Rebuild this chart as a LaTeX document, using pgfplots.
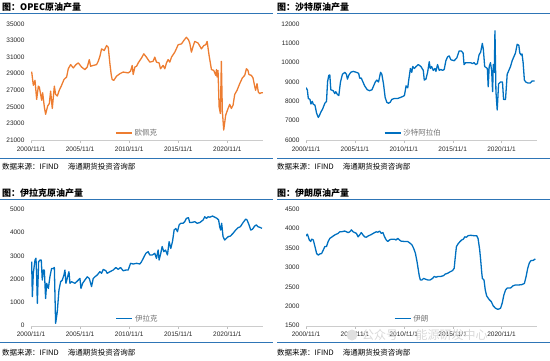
\documentclass[border=0pt]{standalone}
\usepackage{fontspec}
\setmainfont{Liberation Sans}
\newfontfamily\cjk{Noto Sans CJK SC}
\usepackage{pgfplots}
\pgfplotsset{compat=1.18}
\definecolor{opec}{HTML}{ED7D31}
\definecolor{ser}{HTML}{0070C0}
\definecolor{sep}{HTML}{2E75B6}
\pgfplotsset{
 panel/.style={
  scale only axis, width=232pt, height=116pt, anchor=south west,
  xmin=2000.833, xmax=2024.46,
  axis x line*=bottom, axis y line*=left,
  x axis line style={draw=black!20, -},
  y axis line style={draw=none},
  xtick={2000.833,2005.833,2010.833,2015.833,2020.833},
  xticklabels={2000/11/1,2005/11/1,2010/11/1,2015/11/1,2020/11/1},
  tick align=outside, major tick length=3pt,
  xtick style={draw=black!25},
  ytick style={draw=none},
  scaled y ticks=false,
  tick label style={font=\fontsize{6.5}{7}\selectfont, color=black!85},
  /pgf/number format/assume math mode=true,
  /pgf/number format/1000 sep={},
  legend style={draw=none, fill=none, font=\cjk\fontsize{7.5}{8}\selectfont, text=black!55, anchor=south, inner sep=1pt},
  legend image code/.code={\draw[##1, line width=1.6pt] (0pt,0pt) -- (16pt,0pt);},
 },
 ln/.style={line width=1.3pt, line join=round, no markers}
}
\begin{document}
\begin{tikzpicture}
\path[use as bounding box] (0pt,0pt) rectangle (550pt,360pt);
% separators
\draw[sep, line width=0.9pt] (0pt,346.7pt) -- (273pt,346.7pt);
\draw[sep, line width=0.9pt] (277pt,346.7pt) -- (550pt,346.7pt);
\draw[sep, line width=0.9pt] (0pt,201.7pt) -- (273pt,201.7pt);
\draw[sep, line width=0.9pt] (277pt,201.7pt) -- (550pt,201.7pt);
\draw[sep, line width=0.9pt] (0pt,160.7pt) -- (273pt,160.7pt);
\draw[sep, line width=0.9pt] (277pt,160.7pt) -- (550pt,160.7pt);
\draw[sep, line width=0.9pt] (0pt,17.7pt) -- (273pt,17.7pt);
\draw[sep, line width=0.9pt] (277pt,17.7pt) -- (550pt,17.7pt);
% titles
\node[anchor=west, inner sep=0, font=\cjk\bfseries\fontsize{9}{10}\selectfont] at (2pt,352.5pt) {图：OPEC原油产量};
\node[anchor=west, inner sep=0, font=\cjk\bfseries\fontsize{9}{10}\selectfont] at (277pt,352.5pt) {图：沙特原油产量};
\node[anchor=west, inner sep=0, font=\cjk\bfseries\fontsize{9}{10}\selectfont] at (2pt,167pt) {图：伊拉克原油产量};
\node[anchor=west, inner sep=0, font=\cjk\bfseries\fontsize{9}{10}\selectfont] at (277pt,167pt) {图：伊朗原油产量};
% sources
\node[anchor=west, inner sep=0, font=\cjk\fontsize{7.5}{8}\selectfont] at (2pt,193.3pt) {数据来源：IFIND\hspace{9pt}海通期货投资咨询部};
\node[anchor=west, inner sep=0, font=\cjk\fontsize{7.5}{8}\selectfont] at (277pt,193.3pt) {数据来源：IFIND\hspace{9pt}海通期货投资咨询部};
\node[anchor=west, inner sep=0, font=\cjk\fontsize{7.5}{8}\selectfont] at (2pt,7.3pt) {数据来源：IFIND\hspace{9pt}海通期货投资咨询部};
\node[anchor=west, inner sep=0, font=\cjk\fontsize{7.5}{8}\selectfont] at (277pt,7.3pt) {数据来源：IFIND\hspace{9pt}海通期货投资咨询部};

% OPEC
\begin{axis}[panel, at={(31pt,220pt)}, ymin=21000, ymax=35000, ytick={21000,23000,...,35000},
  legend style={at={(0.457,0)}}]
\addplot[ln, opec] coordinates {
(2000.90,29250)(2001.07,27600)(2001.24,28200)(2001.41,25900)(2001.58,27500)(2001.68,27400)
(2001.92,25800)(2002.02,26700)(2002.19,25000)(2002.32,24100)(2002.53,25100)(2002.70,25400)
(2002.83,26900)(2003.00,24800)(2003.21,27500)(2003.34,26500)(2003.51,26300)(2003.71,27000)
(2003.95,27600)(2004.19,28300)(2004.46,28600)(2004.63,29600)(2004.87,30100)(2005.14,29700)
(2005.41,30100)(2005.65,30300)(2005.99,29800)(2006.32,29500)(2006.56,29800)(2006.77,30700)
(2006.90,29900)(2007.17,30000)(2007.51,30100)(2007.68,30500)(2007.85,31100)(2008.02,32000)
(2008.29,31800)(2008.53,32400)(2008.70,32200)(2008.87,30200)(2009.00,28900)(2009.10,28300)
(2009.27,28200)(2009.54,28700)(2009.88,29000)(2010.22,29200)(2010.73,29100)(2010.97,29300)
(2011.14,30000)(2011.24,28900)(2011.41,29800)(2011.58,29900)(2011.75,30300)(2012.09,30900)
(2012.32,31400)(2012.59,31000)(2012.93,30400)(2013.27,30500)(2013.44,31000)(2013.61,30400)
(2013.88,30300)(2014.02,29600)(2014.29,30000)(2014.46,29600)(2014.63,30300)(2014.80,30700)
(2014.97,30400)(2015.14,31000)(2015.48,31600)(2015.82,32500)(2016.16,32600)(2016.39,33000)
(2016.66,33400)(2016.87,33100)(2017.00,32700)(2017.17,31600)(2017.34,32300)(2017.51,32900)
(2017.85,32700)(2018.19,32000)(2018.43,32400)(2018.63,32500)(2018.77,32900)(2018.97,31200)
(2019.21,29500)(2019.44,29400)(2019.65,28800)(2019.72,29500)(2019.78,28600)(2019.88,29400)
(2019.99,25000)(2020.12,24200)(2020.22,30500)(2020.32,24500)(2020.46,22200)(2020.66,24000)
(2020.90,24800)(2021.07,25300)(2021.24,24800)(2021.41,25200)(2021.58,26500)(2021.82,27000)
(2022.09,27800)(2022.36,28500)(2022.60,28800)(2022.77,29600)(2022.93,29400)(2023.03,28900)
(2023.27,28800)(2023.44,28500)(2023.61,27500)(2023.71,27000)(2023.85,27800)(2023.98,26800)
(2024.12,26600)(2024.29,26700)(2024.46,26700)
};
\addlegendentry{欧佩克}
\end{axis}

% Saudi
\begin{axis}[panel, at={(306pt,220pt)}, width=231pt, ymin=6000, ymax=12000, ytick={6000,7000,...,12000},
  legend style={at={(0.465,0)}}]
\addplot[ln, ser] coordinates {
(2000.83,8710)(2000.97,8590)(2001.07,8150)(2001.24,8100)(2001.34,7860)(2001.48,8000)(2001.58,7850)
(2001.75,7800)(2001.92,7380)(2002.09,7170)(2002.19,7250)(2002.36,7450)(2002.53,7600)(2002.76,7900)
(2002.93,8000)(2003.04,9020)(2003.17,9350)(2003.27,9360)(2003.37,8600)(2003.61,8550)(2003.78,8400)
(2003.88,8500)(2004.05,8350)(2004.19,8300)(2004.36,9000)(2004.56,9400)(2004.80,9500)(2004.97,9400)
(2005.07,9150)(2005.21,9350)(2005.41,9500)(2005.65,9550)(2005.99,9500)(2006.22,9450)(2006.32,9200)
(2006.49,9200)(2006.66,9000)(2006.83,8800)(2007.10,8600)(2007.34,8550)(2007.58,8600)(2007.75,8800)
(2007.92,9000)(2008.08,9100)(2008.25,9000)(2008.46,9500)(2008.59,9400)(2008.76,8900)(2008.93,8200)
(2009.10,7950)(2009.27,7900)(2009.44,7950)(2009.61,8100)(2009.88,8150)(2010.22,8150)(2010.49,8200)
(2010.73,8250)(2010.90,8300)(2011.07,8800)(2011.24,8700)(2011.34,9100)(2011.51,9700)(2011.65,9500)
(2011.75,9800)(2011.92,9700)(2012.09,9800)(2012.32,9900)(2012.59,9800)(2012.83,9600)(2012.93,9100)
(2013.10,9150)(2013.27,9500)(2013.44,10050)(2013.54,9700)(2013.68,9800)(2013.85,9600)(2014.02,9700)
(2014.12,9550)(2014.29,9900)(2014.46,9600)(2014.63,9650)(2014.80,9600)(2014.97,9650)(2015.14,10100)
(2015.31,10300)(2015.48,10350)(2015.65,10150)(2015.99,10100)(2016.26,10250)(2016.49,10600)
(2016.73,10600)(2016.90,10500)(2017.00,9900)(2017.17,10000)(2017.34,10000)(2017.68,10000)
(2017.85,9950)(2018.02,10000)(2018.19,9900)(2018.36,9950)(2018.53,10400)(2018.70,10550)
(2018.87,11000)(2018.97,10700)(2019.11,9800)(2019.38,9700)(2019.47,8750)(2019.57,9800)
(2019.70,10000)(2019.82,9600)(2019.92,8500)(2019.99,9900)(2020.09,9500)(2020.16,11650)
(2020.26,8500)(2020.39,7550)(2020.53,8900)(2020.73,9000)(2020.93,9000)(2021.04,8100)(2021.24,8100)
(2021.41,9400)(2021.75,9800)(2021.92,10100)(2022.09,10300)(2022.26,10500)(2022.43,10950)
(2022.60,10900)(2022.70,10500)(2022.84,10400)(2022.93,10450)(2023.04,10000)(2023.17,9100)
(2023.31,9000)(2023.51,8950)(2023.78,8950)(2023.95,9050)(2024.22,9050)
};
\addlegendentry{沙特阿拉伯}
\end{axis}

% Iraq
\begin{axis}[panel, at={(31pt,34.3pt)}, height=116.4pt, ymin=0, ymax=5000, ytick={0,1000,...,5000},
  legend style={at={(0.459,0)}}]
\addplot[ln, ser] coordinates {
(2000.90,2750)(2000.97,1250)(2001.07,2250)(2001.24,2820)(2001.34,2900)(2001.41,2100)(2001.48,960)
(2001.61,2750)(2001.75,2820)(2001.88,2820)(2001.98,1960)(2002.09,2390)(2002.19,2390)(2002.32,1170)
(2002.43,1820)(2002.60,1600)(2002.76,2100)(2002.93,2460)(2003.10,2460)(2003.21,2500)(2003.34,100)
(2003.51,600)(2003.68,1530)(2003.85,1890)(2004.02,1960)(2004.19,2180)(2004.29,2390)(2004.39,1820)
(2004.56,2100)(2004.70,2320)(2004.80,1820)(2004.97,1890)(2005.31,1820)(2005.65,1960)(2005.82,2030)
(2005.92,1600)(2006.09,1820)(2006.32,1960)(2006.56,2100)(2006.77,2030)(2007.00,1680)(2007.17,2030)
(2007.34,2100)(2007.58,2180)(2007.85,2320)(2008.02,2250)(2008.19,2420)(2008.46,2360)(2008.59,2250)
(2008.87,2320)(2009.20,2390)(2009.48,2500)(2009.71,2420)(2009.95,2500)(2010.22,2360)(2010.49,2390)
(2010.73,2390)(2010.97,2680)(2011.24,2650)(2011.58,2680)(2011.92,2650)(2012.09,2750)(2012.26,2890)
(2012.53,3110)(2012.77,3180)(2012.93,3040)(2013.20,3040)(2013.44,3110)(2013.61,2890)(2013.78,3250)
(2013.88,2820)(2014.05,3110)(2014.19,3400)(2014.36,3180)(2014.53,3250)(2014.73,3040)(2014.90,3610)
(2015.07,3320)(2015.24,3610)(2015.41,4110)(2015.58,4180)(2015.75,4040)(2015.92,4330)(2016.09,4400)
(2016.32,4400)(2016.49,4470)(2016.66,4610)(2016.87,4640)(2017.00,4430)(2017.27,4440)(2017.51,4470)
(2017.75,4400)(2018.02,4430)(2018.36,4540)(2018.53,4680)(2018.70,4610)(2018.87,4680)(2019.04,4660)
(2019.31,4710)(2019.55,4660)(2019.78,4610)(2019.94,4540)(2020.05,4250)(2020.15,4110)(2020.25,4400)
(2020.39,3830)(2020.56,3680)(2020.73,3750)(2020.93,3830)(2021.14,3850)(2021.41,3970)(2021.68,4110)
(2021.92,4210)(2022.15,4250)(2022.43,4430)(2022.70,4580)(2022.84,4540)(2023.04,4330)(2023.21,4110)
(2023.38,4140)(2023.61,4280)(2023.78,4330)(2023.95,4250)(2024.12,4230)(2024.36,4180)
};
\addlegendentry{伊拉克}
\end{axis}

% Iran
\begin{axis}[panel, at={(306pt,34.3pt)}, width=231pt, height=116.4pt, ymin=1500, ymax=4500, ytick={1500,2000,...,4500},
  legend style={at={(0.459,0)}}]
\addplot[ln, ser] coordinates {
(2000.83,3810)(2000.97,3860)(2001.07,3790)(2001.17,3710)(2001.31,3670)(2001.41,3730)(2001.58,3710)
(2001.75,3540)(2001.92,3360)(2002.09,3320)(2002.26,3350)(2002.43,3360)(2002.60,3450)(2002.76,3540)
(2002.93,3540)(2003.10,3670)(2003.27,3750)(2003.44,3780)(2003.78,3840)(2004.12,3880)(2004.29,3920)
(2004.46,3920)(2004.80,3940)(2005.14,3900)(2005.31,3920)(2005.48,3970)(2005.65,3920)(2005.99,3880)
(2006.16,3790)(2006.32,3840)(2006.49,3900)(2006.66,3840)(2006.83,3790)(2007.00,3780)(2007.17,3810)
(2007.51,3850)(2007.85,3900)(2008.02,3920)(2008.19,3910)(2008.36,3940)(2008.53,3880)(2008.70,3900)
(2008.87,3790)(2009.04,3710)(2009.20,3670)(2009.37,3710)(2009.54,3730)(2009.88,3730)(2010.05,3710)
(2010.22,3750)(2010.39,3710)(2010.56,3680)(2010.90,3670)(2011.24,3670)(2011.51,3620)(2011.68,3580)
(2011.85,3490)(2012.02,3370)(2012.19,3150)(2012.32,2940)(2012.43,2770)(2012.53,2680)(2012.70,2680)
(2012.87,2720)(2013.04,2700)(2013.27,2680)(2013.54,2680)(2013.78,2720)(2013.95,2770)(2014.12,2750)
(2014.36,2770)(2014.63,2770)(2014.90,2790)(2015.07,2830)(2015.31,2850)(2015.58,2890)(2015.82,2920)
(2015.99,2980)(2016.09,3240)(2016.22,3540)(2016.39,3610)(2016.59,3670)(2016.76,3710)(2016.93,3730)
(2017.07,3790)(2017.24,3780)(2017.41,3820)(2017.68,3830)(2018.02,3820)(2018.29,3820)(2018.43,3750)
(2018.60,3450)(2018.70,3190)(2018.80,2890)(2018.87,2720)(2019.04,2680)(2019.17,2420)(2019.31,2270)
(2019.55,2180)(2019.78,2120)(2019.99,2010)(2020.22,1950)(2020.46,1920)(2020.73,1950)(2020.90,2080)
(2021.07,2290)(2021.24,2420)(2021.41,2470)(2021.75,2470)(2022.02,2530)(2022.26,2550)(2022.60,2550)
(2022.93,2560)(2023.17,2590)(2023.34,2760)(2023.51,2980)(2023.68,3120)(2023.85,3180)(2024.05,3180)
(2024.29,3220)
};
\addlegendentry{伊朗}
\end{axis}
% watermark
\fill[black!12] (352pt,25pt) circle (5.5pt);
\node[anchor=west, inner sep=0, text=black!15, font=\cjk\fontsize{12}{12}\selectfont] at (362pt,25pt) {公众号 · 能源研发中心};
\end{tikzpicture}
\end{document}
